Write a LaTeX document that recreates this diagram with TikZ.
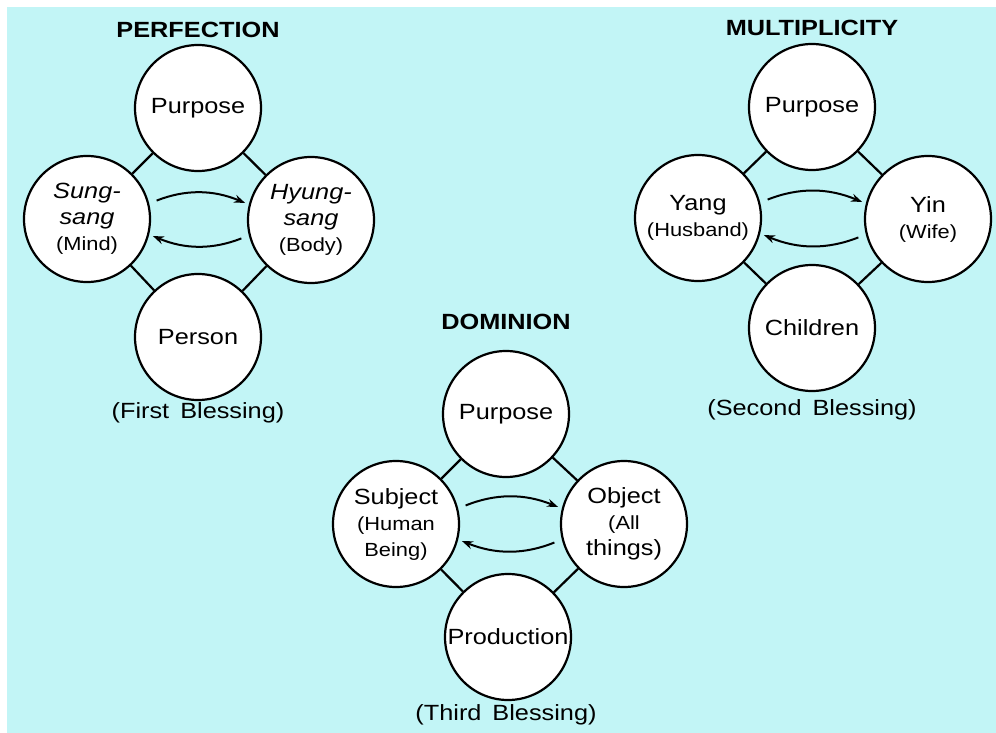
\documentclass[tikz,border=0pt]{standalone}
\usepackage{fontspec}
\setmainfont[FakeStretch=1.15]{Liberation Sans}
\usetikzlibrary{arrows.meta}
\definecolor{paleblue}{RGB}{194,245,246}
\newcommand{\sm}[1]{{\fontsize{19}{22}\selectfont #1}}

\begin{document}
\begin{tikzpicture}[x=1pt,y=1pt,
  ring/.style={circle,draw,line width=2.2pt,fill=white,minimum size=126pt,inner sep=0pt,align=center,font=\fontsize{22}{26}\selectfont},
  title/.style={font=\bfseries\fontsize{22}{26}\selectfont},
  note/.style={font=\fontsize{22}{26}\selectfont},
  link/.style={line width=2.2pt},
  swap/.style={line width=2pt,-{Stealth[length=11pt,width=8pt]},shorten <=8pt,shorten >=4pt}]
\fill[white] (0,0) rectangle (996,-733);
\fill[paleblue] (7,-7) rectangle (996,-733);

\node[title] (t1) at (198,-30) {PERFECTION};
\node[ring] (p1) at (198,-108) {Purpose};
\node[ring] (s1) at (87,-219) {{\itshape Sung-}\\{\itshape sang}\\\sm{(Mind)}};
\node[ring] (h1) at (311,-220) {{\itshape Hyung-}\\{\itshape sang}\\\sm{(Body)}};
\node[ring] (n1) at (198,-337) {Person};
\node[note] (b1) at (198,-413) {(First\hspace{.5em}Blessing)};
\draw[link] (p1) -- (s1);
\draw[link] (p1) -- (h1);
\draw[link] (n1) -- (s1);
\draw[link] (n1) -- (h1);
\draw[swap] (s1.14) to[bend left=22] (h1.166);
\draw[swap] (h1.-166) to[bend left=22] (s1.-14);

\node[title] (t2) at (812,-28) {MULTIPLICITY};
\node[ring] (p2) at (812,-107) {Purpose};
\node[ring] (s2) at (698,-218) {Yang\\\sm{(Husband)}};
\node[ring] (h2) at (928,-219) {Yin\\\sm{(Wife)}};
\node[ring] (n2) at (812,-328) {Children};
\node[note] (b2) at (812,-410) {(Second\hspace{.5em}Blessing)};
\draw[link] (p2) -- (s2);
\draw[link] (p2) -- (h2);
\draw[link] (n2) -- (s2);
\draw[link] (n2) -- (h2);
\draw[swap] (s2.14) to[bend left=22] (h2.166);
\draw[swap] (h2.-166) to[bend left=22] (s2.-14);

\node[title] (t3) at (506,-322) {DOMINION};
\node[ring] (p3) at (506,-414) {Purpose};
\node[ring] (s3) at (396,-524) {Subject\\\sm{(Human}\\\sm{Being)}};
\node[ring] (h3) at (624,-524) {Object\\\sm{(All}\\things)};
\node[ring] (n3) at (508,-637) {Production};
\node[note] (b3) at (506,-715) {(Third\hspace{.5em}Blessing)};
\draw[link] (p3) -- (s3);
\draw[link] (p3) -- (h3);
\draw[link] (n3) -- (s3);
\draw[link] (n3) -- (h3);
\draw[swap] (s3.14) to[bend left=22] (h3.166);
\draw[swap] (h3.-166) to[bend left=22] (s3.-14);
\end{tikzpicture}
\end{document}
